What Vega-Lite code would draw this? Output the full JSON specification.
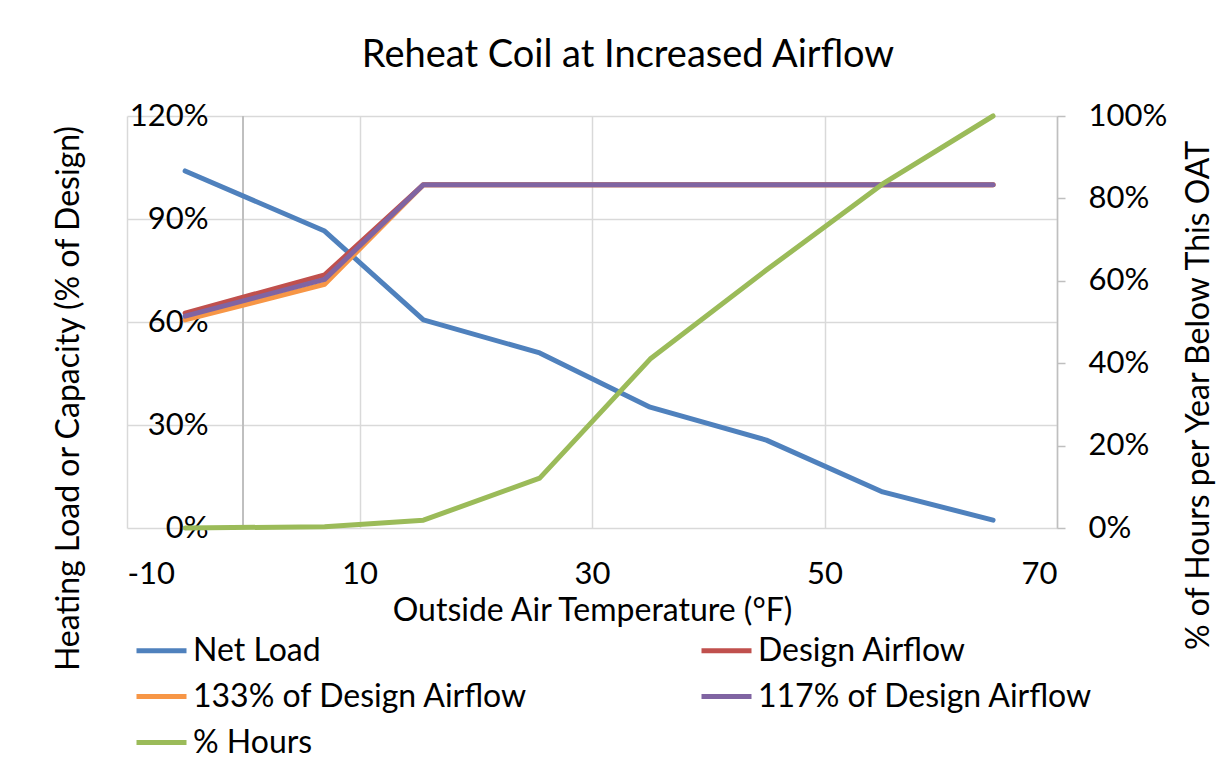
{
  "$schema": "https://vega.github.io/schema/vega-lite/v6.json",
  "width": 930,
  "height": 412,
  "autosize": {"type": "none"},
  "padding": {"left": 127, "top": 116, "right": 175, "bottom": 232},
  "background": "white",
  "config": {
    "font": "Lato",
    "view": {"stroke": null},
    "axis": {"labelColor": "#000000", "titleColor": "#000000", "titleFontWeight": "normal", "labelFont": "Lato", "titleFont": "Lato"}
  },
  "title": {
    "text": "Reheat Coil at Increased Airflow",
    "fontSize": 38,
    "fontWeight": "normal",
    "font": "Lato",
    "color": "#000000",
    "anchor": "middle",
    "frame": "group",
    "dx": 36,
    "offset": 25
  },
  "data": {
    "values": [
      {"t": -5, "series": "Net Load", "v": 1.04},
      {"t": 7, "series": "Net Load", "v": 0.865},
      {"t": 15.5, "series": "Net Load", "v": 0.606},
      {"t": 25.5, "series": "Net Load", "v": 0.51},
      {"t": 35, "series": "Net Load", "v": 0.352},
      {"t": 45, "series": "Net Load", "v": 0.256},
      {"t": 55, "series": "Net Load", "v": 0.105},
      {"t": 64.5, "series": "Net Load", "v": 0.023},
      {"t": -5, "series": "Design Airflow", "v": 0.626},
      {"t": 7, "series": "Design Airflow", "v": 0.737},
      {"t": 15.5, "series": "Design Airflow", "v": 1.0},
      {"t": 25.5, "series": "Design Airflow", "v": 1.0},
      {"t": 35, "series": "Design Airflow", "v": 1.0},
      {"t": 45, "series": "Design Airflow", "v": 1.0},
      {"t": 55, "series": "Design Airflow", "v": 1.0},
      {"t": 64.5, "series": "Design Airflow", "v": 1.0},
      {"t": -5, "series": "133% of Design Airflow", "v": 0.606},
      {"t": 7, "series": "133% of Design Airflow", "v": 0.71},
      {"t": 15.5, "series": "133% of Design Airflow", "v": 1.0},
      {"t": 25.5, "series": "133% of Design Airflow", "v": 1.0},
      {"t": 35, "series": "133% of Design Airflow", "v": 1.0},
      {"t": 45, "series": "133% of Design Airflow", "v": 1.0},
      {"t": 55, "series": "133% of Design Airflow", "v": 1.0},
      {"t": 64.5, "series": "133% of Design Airflow", "v": 1.0},
      {"t": -5, "series": "117% of Design Airflow", "v": 0.617},
      {"t": 7, "series": "117% of Design Airflow", "v": 0.724},
      {"t": 15.5, "series": "117% of Design Airflow", "v": 1.0},
      {"t": 25.5, "series": "117% of Design Airflow", "v": 1.0},
      {"t": 35, "series": "117% of Design Airflow", "v": 1.0},
      {"t": 45, "series": "117% of Design Airflow", "v": 1.0},
      {"t": 55, "series": "117% of Design Airflow", "v": 1.0},
      {"t": 64.5, "series": "117% of Design Airflow", "v": 1.0},
      {"t": -5, "series": "% Hours", "v": 0.0},
      {"t": 7, "series": "% Hours", "v": 0.003},
      {"t": 15.5, "series": "% Hours", "v": 0.019},
      {"t": 25.5, "series": "% Hours", "v": 0.121},
      {"t": 35, "series": "% Hours", "v": 0.41},
      {"t": 45, "series": "% Hours", "v": 0.626},
      {"t": 55, "series": "% Hours", "v": 0.835},
      {"t": 64.5, "series": "% Hours", "v": 1.0}
    ]
  },
  "layer": [
    {
      "transform": [{"filter": "datum.series !== '% Hours'"}],
      "layer": [
        {
          "mark": {"type": "rule", "color": "#bfbfbf", "strokeWidth": 1.5},
          "encoding": {"x": {"datum": 0, "type": "quantitative"}}
        },
        {
          "mark": {"type": "line", "strokeWidth": 5, "strokeCap": "round", "strokeJoin": "round"},
          "encoding": {
            "x": {
              "field": "t",
              "type": "quantitative",
              "scale": {"domain": [-10, 70], "nice": false, "zero": false},
              "axis": {
                "values": [-10, 10, 30, 50, 70],
                "labelExpr": "'' + datum.value",
                "title": "Outside Air Temperature (°F)",
                "titleFontSize": 32,
                "titleX": 465,
                "titleY": 82,
                "titleBaseline": "middle",
                "titleAnchor": null,
                "labelFontSize": 31,
                "labelPadding": 31,
                "ticks": false,
                "domain": false,
                "grid": true,
                "gridColor": "#d9d9d9",
                "gridWidth": 1.5
              }
            },
            "y": {
              "field": "v",
              "type": "quantitative",
              "scale": {"domain": [0, 1.2], "nice": false},
              "axis": {
                "values": [0, 0.3, 0.6, 0.9, 1.2],
                "format": ".0%",
                "title": "Heating Load or Capacity (% of Design)",
                "titleFontSize": 32,
                "titleX": -59,
                "titleY": 282,
                "titleAngle": 270,
                "titleBaseline": "middle",
                "titleAlign": "center",
                "labelFontSize": 31,
                "labelPadding": -81,
                "ticks": false,
                "domain": false,
                "grid": true,
                "gridColor": "#d9d9d9",
                "gridWidth": 1.5
              }
            },
            "color": {
              "field": "series",
              "type": "nominal",
              "scale": {
                "domain": ["Net Load", "Design Airflow", "133% of Design Airflow", "117% of Design Airflow", "% Hours"],
                "range": ["#4F81BD", "#C0504D", "#F79646", "#8064A2", "#9BBB59"]
              },
              "legend": {
                "orient": "none",
                "legendX": 7,
                "legendY": 507,
                "columns": 2,
                "direction": "horizontal",
                "title": null,
                "symbolType": "stroke",
                "symbolSize": 2500,
                "symbolStrokeWidth": 5,
                "labelFontSize": 32,
                "labelFont": "Lato",
                "labelColor": "#000000",
                "labelOffset": 4,
                "labelLimit": 600,
                "columnPadding": 163,
                "rowPadding": 2,
                "padding": 0
              }
            },
            "order": {"field": "series"}
          }
        }
      ]
    },
    {
      "transform": [{"filter": "datum.series === '% Hours'"}],
      "mark": {"type": "line", "strokeWidth": 5, "strokeCap": "round", "strokeJoin": "round"},
      "encoding": {
        "x": {"field": "t", "type": "quantitative"},
        "y": {
          "field": "v",
          "type": "quantitative",
          "scale": {"domain": [0, 1], "nice": false},
          "axis": {
            "orient": "right",
            "values": [0, 0.2, 0.4, 0.6, 0.8, 1.0],
            "format": ".0%",
            "title": "% of Hours per Year Below This OAT",
            "titleFontSize": 32,
            "titleX": 141,
            "titleY": 279,
            "titleAngle": 270,
            "titleBaseline": "middle",
            "titleAlign": "center",
            "labelFontSize": 31,
            "labelPadding": 23,
            "ticks": true,
            "tickSize": 8,
            "tickColor": "#bfbfbf",
            "tickWidth": 1.5,
            "domain": true,
            "domainColor": "#bfbfbf",
            "domainWidth": 1.5,
            "grid": false
          }
        },
        "color": {"field": "series", "type": "nominal"}
      }
    }
  ],
  "resolve": {"scale": {"y": "independent"}}
}
